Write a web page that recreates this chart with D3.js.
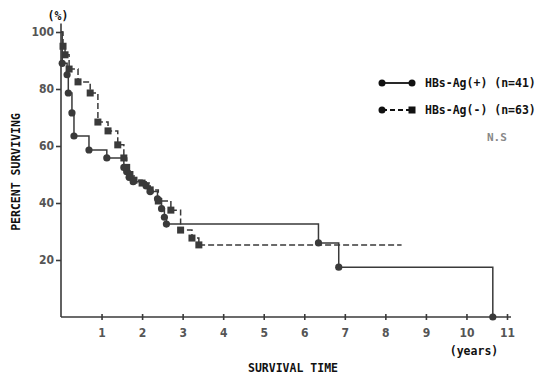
<!DOCTYPE html>
<html>
<head>
<meta charset="utf-8">
<script src="https://cdn.jsdelivr.net/npm/d3@7"></script>
<style>
  body { margin: 0; background: #fff; }
  svg { display: block; }
</style>
</head>
<body>
<svg id="chart" width="547" height="374"></svg>
<script>
// HBs-Ag(+) curve, solid line with circles
const posTimes = [0, 0.03, 0.15, 0.18, 0.27, 0.32, 0.69, 1.13, 1.55, 1.62, 1.68, 1.78, 2.1, 2.2, 2.38, 2.48, 2.55, 2.6, 6.35, 6.85, 10.65];
const posSurv  = [100, 89, 85, 78.6, 71.6, 63.5, 58.6, 55.8, 52.5, 51, 49, 47.5, 46, 44, 41.5, 38, 35, 32.6, 26, 17.5, 0];

// HBs-Ag(-) curve, dashed line with squares
const negTimes = [0, 0.05, 0.1, 0.2, 0.42, 0.72, 0.91, 1.16, 1.4, 1.55, 1.62, 1.7, 1.8, 2.0, 2.2, 2.4, 2.71, 2.95, 3.23, 3.4, 8.4];
const negSurv  = [100, 95, 92, 87, 82.5, 78.6, 68.4, 65.3, 60.4, 55.8, 52.5, 50, 48, 47, 44.6, 40.7, 37.5, 30.5, 27.7, 25.3, 25.3];

const xTicks = [1, 2, 3, 4, 5, 6, 7, 8, 9, 10, 11];
const yTicks = [20, 40, 60, 80, 100];
const legendLabels = ["HBs-Ag(+) (n=41)", "HBs-Ag(-) (n=63)"];

const ink = "#3a3a3a";
const monoFont = "'DejaVu Sans Mono', 'Liberation Mono', monospace";
const narrowFont = "'Liberation Sans Narrow', 'DejaVu Sans Condensed', sans-serif";

const svg = d3.select("#chart");

let x = d3.scaleLinear().domain([0, 11]).range([61, 507]);
let y = d3.scaleLinear().domain([0, 100]).range([317, 32]);

// axes
const xAxis = svg.append("g")
    .attr("transform", `translate(0,${y(0)})`)
    .call(d3.axisBottom(x).tickValues(xTicks).tickSize(3).tickPadding(8).tickSizeOuter(0));
xAxis.select(".domain").attr("d", `M${x(0)},0H${x(11) + 4}`);
xAxis.selectAll(".tick line").attr("y1", -3);

const yAxis = svg.append("g")
    .attr("transform", `translate(${x(0)},0)`)
    .call(d3.axisLeft(y).tickValues(yTicks).tickSize(5).tickPadding(2).tickSizeOuter(0));
yAxis.select(".domain").attr("d", `M0,${y(0)}V${y(103)}`);

svg.selectAll(".domain, .tick line")
    .attr("stroke", ink)
    .attr("stroke-width", 1.6);
svg.selectAll(".tick text")
    .attr("font-family", narrowFont)
    .attr("font-size", "12px")
    .attr("font-weight", "bold")
    .attr("fill", "#555");

// survival curves
function toPoints(times, surv) {
    return times.map((t, i) => ({ t: t, s: surv[i] }));
}
const posData = toPoints(posTimes, posSurv);
const negData = toPoints(negTimes, negSurv);

let line = d3.line()
    .x(d => x(d.t))
    .y(d => y(d.s))
    .curve(d3.curveStepAfter);

svg.append("path")
    .attr("d", line(negData))
    .attr("fill", "none")
    .attr("stroke", ink)
    .attr("stroke-width", 1.5)
    .attr("stroke-dasharray", "6,3");

svg.append("path")
    .attr("d", line(posData))
    .attr("fill", "none")
    .attr("stroke", ink)
    .attr("stroke-width", 1.5);

// markers at each drop
svg.append("g").selectAll("rect")
    .data(negData.slice(1, -1))
    .join("rect")
    .attr("x", d => x(d.t) - 3.5)
    .attr("y", d => y(d.s) - 3.5)
    .attr("width", 7)
    .attr("height", 7)
    .attr("fill", ink);

svg.append("g").selectAll("circle")
    .data(posData.slice(1))
    .join("circle")
    .attr("cx", d => x(d.t))
    .attr("cy", d => y(d.s))
    .attr("r", 3.6)
    .attr("fill", ink);

// legend
const legend = svg.append("g").attr("transform", "translate(382,83)");
legendLabels.forEach((label, i) => {
    const g = legend.append("g").attr("transform", `translate(0,${i * 27})`);
    g.append("line")
        .attr("x1", 0).attr("x2", 30)
        .attr("stroke", "#111")
        .attr("stroke-width", 1.8)
        .attr("stroke-dasharray", i === 0 ? null : "5,3");
    g.append("circle").attr("cx", 0).attr("r", 3.5).attr("fill", "#111");
    if (i === 0) {
        g.append("circle").attr("cx", 30).attr("r", 3.5).attr("fill", "#111");
    } else {
        g.append("rect").attr("x", 26.5).attr("y", -3.5).attr("width", 7).attr("height", 7).attr("fill", "#111");
    }
    g.append("text")
        .attr("x", 43)
        .attr("y", 4)
        .attr("font-family", monoFont)
        .attr("font-size", "11.5px")
        .attr("font-weight", "bold")
        .attr("fill", "#111")
        .text(label);
});

svg.append("text")
    .attr("x", 487).attr("y", 141)
    .attr("font-family", monoFont)
    .attr("font-size", "11px")
    .attr("font-weight", "bold")
    .attr("fill", "#888")
    .text("N.S");

// labels
const labelStyle = sel => sel
    .attr("font-family", monoFont)
    .attr("font-size", "11.5px")
    .attr("font-weight", "bold")
    .attr("fill", "#111");

svg.append("text").call(labelStyle)
    .attr("x", 58).attr("y", 20)
    .attr("text-anchor", "middle")
    .text("(%)");

svg.append("text").call(labelStyle)
    .attr("transform", "translate(20,172) rotate(-90)")
    .attr("text-anchor", "middle")
    .text("PERCENT SURVIVING");

svg.append("text").call(labelStyle)
    .attr("x", 293).attr("y", 372)
    .attr("text-anchor", "middle")
    .text("SURVIVAL TIME");

svg.append("text").call(labelStyle)
    .attr("x", 474).attr("y", 355)
    .attr("text-anchor", "middle")
    .text("(years)");
</script>
</body>
</html>
